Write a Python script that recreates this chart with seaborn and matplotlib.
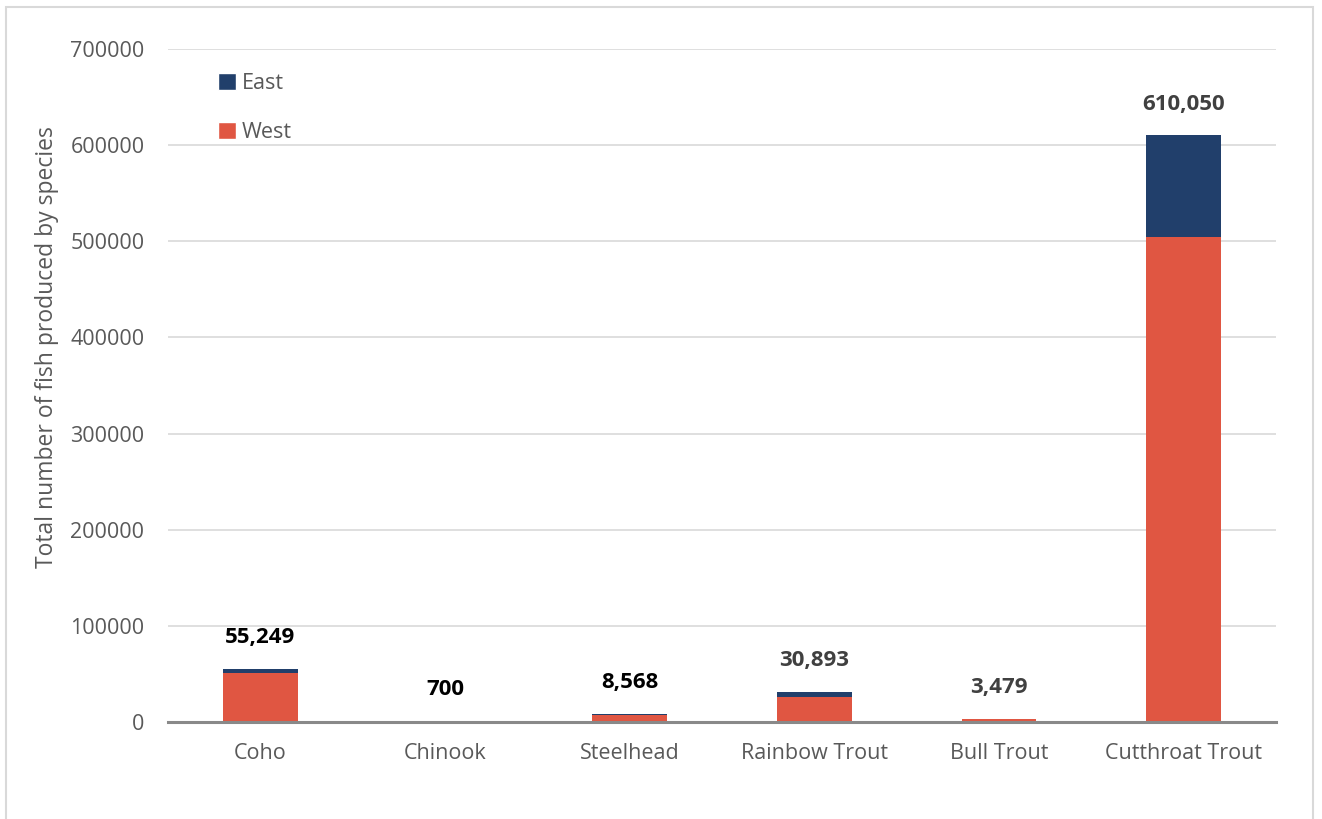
import matplotlib
matplotlib.use("Agg")
import matplotlib.pyplot as plt
from matplotlib.patches import Rectangle, Patch
import seaborn as sns
import pandas as pd

# Fish production by species, split by region
species = ["Coho", "Chinook", "Steelhead", "Rainbow Trout", "Bull Trout", "Cutthroat Trout"]
west = [51300, 700, 7300, 26300, 3479, 504800]
east = [3949, 0, 1268, 4593, 0, 105250]
totals = [55249, 700, 8568, 30893, 3479, 610050]
label_colors = ["#000000", "#000000", "#000000", "#404040", "#404040", "#404040"]
y_ticks = [0, 100000, 200000, 300000, 400000, 500000, 600000, 700000]

WEST_COLOR = "#E05642"
EAST_COLOR = "#213F6B"

sns.set_theme(style="white")
plt.rcParams["font.family"] = ["Open Sans", "DejaVu Sans"]

df = pd.DataFrame({"species": species, "west": west, "east": east})
df["stack"] = df["west"] + df["east"]

fig = plt.figure(figsize=(13.22, 8.19), dpi=100)
ax = fig.add_axes([168 / 1322, 1 - 722 / 819, 1108 / 1322, 673 / 819])

# Stacked bars: full height in the East colour, West drawn over it from zero
sns.barplot(data=df, x="species", y="stack", color=EAST_COLOR, width=0.405,
            saturation=1, linewidth=0, ax=ax, zorder=2)
sns.barplot(data=df, x="species", y="west", color=WEST_COLOR, width=0.405,
            saturation=1, linewidth=0, ax=ax, zorder=3)

ax.set_ylim(0, 700000)
ax.set_xlim(-0.5, len(species) - 0.5)
ax.set_yticks(y_ticks)
ax.set_yticklabels([str(v) for v in y_ticks])
ax.yaxis.grid(True, color="#D9D9D9", linewidth=1.2, zorder=0)
ax.set_axisbelow(True)

for side in ["left", "right", "top"]:
    ax.spines[side].set_visible(False)
ax.spines["bottom"].set_color("#898989")
ax.spines["bottom"].set_linewidth(2.2)
ax.spines["bottom"].set_zorder(4)

ax.tick_params(axis="both", length=0, labelsize=15.5, labelcolor="#595959")
ax.tick_params(axis="x", pad=15)
ax.tick_params(axis="y", pad=17)
ax.set_xlabel("")
ax.set_ylabel("Total number of fish produced by species", fontsize=16.5,
              color="#595959")
ax.yaxis.set_label_coords((59 - 168) / 1108, 0.557)

# Total labels above each stack
for i, (tot, col) in enumerate(zip(totals, label_colors)):
    ax.annotate(f"{tot:,}", xy=(i, tot), xytext=(0, 15), textcoords="offset points",
                ha="center", va="bottom", fontsize=16, fontweight="bold", color=col)

handles = [Patch(facecolor=EAST_COLOR, label="East"),
           Patch(facecolor=WEST_COLOR, label="West")]
ax.legend(handles=handles, loc="upper left", bbox_to_anchor=(0.028, 0.993),
          frameon=False, fontsize=15.5, labelcolor="#595959", handlelength=0.8,
          handleheight=0.8, handletextpad=0.3, labelspacing=1.3)

# Chart-area border
fig.patches.append(Rectangle((6 / 1322, -0.05), (1313 - 6) / 1322, 1.05 - 7 / 819,
                             transform=fig.transFigure, fill=False,
                             edgecolor="#D9D9D9", linewidth=1.5))

fig.savefig("out.png", dpi=100)
